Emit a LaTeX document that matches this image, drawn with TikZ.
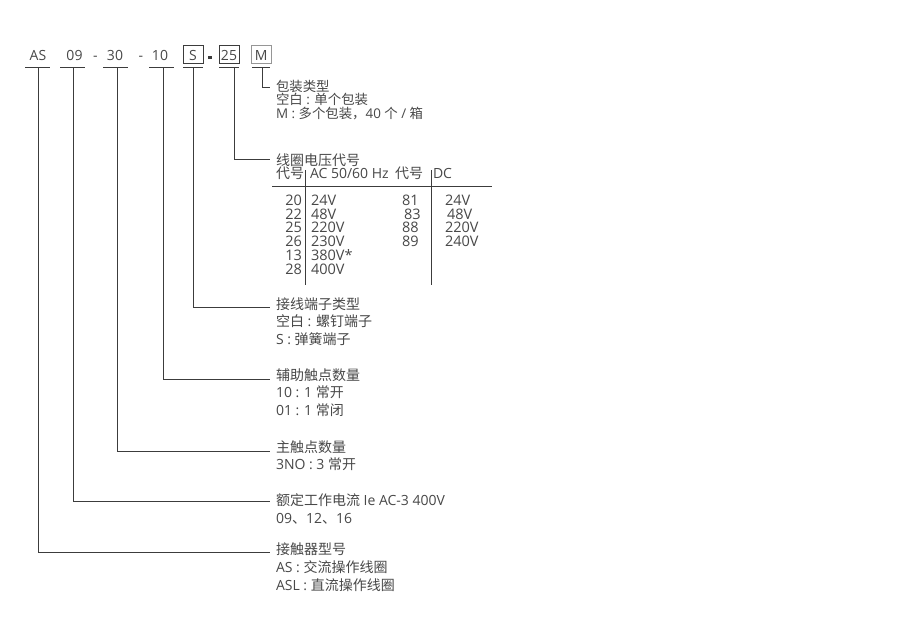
\documentclass[tikz,border=0pt]{standalone}
\usepackage{fontspec}
\setmainfont{Open Sans}
\newfontfamily\cjkfont{Noto Sans CJK SC}
\newcommand\zh[1]{{\cjkfont #1}}
\definecolor{textgray}{RGB}{72,72,72}
\definecolor{linegray}{RGB}{60,60,60}
\definecolor{lightbox}{RGB}{150,150,150}
\tikzset{
  txt/.style={anchor=base west, inner sep=0pt, outer sep=0pt, text=textgray, font=\fontsize{14}{16}\selectfont},
  tighttxt/.style={txt, font=\fontsize{13.4}{14}\selectfont},
  tab/.style={inner sep=0pt, outer sep=0pt, text=textgray, font=\fontsize{14.5}{16}\selectfont},
  codetxt/.style={anchor=base, inner sep=0pt, outer sep=0pt, text=textgray, font=\fontsize{14}{16}\selectfont},
  codebox/.style={draw=linegray, line width=1pt, minimum width=20pt, minimum height=18.5pt, inner sep=0pt},
  ln/.style={draw=linegray, line width=1pt},
}
\begin{document}
\begin{tikzpicture}[x=1pt,y=-1pt]
\fill[white] (0,0) rectangle (900,632);
\useasboundingbox (0,0) rectangle (900,632);

% ---- code row ----
\node[codetxt] (tAS) at (38,60.7) {AS};
\node[codetxt] (t09) at (74.5,60.7) {09};
\node[codetxt] (d1) at (95.5,60.7) {-};
\node[codetxt] (t30) at (115,60.7) {30};
\node[codetxt] (d2) at (141,60.7) {-};
\node[codetxt] (t10) at (160,60.7) {10};
\node[codebox] (bS) at (193,54.5) {};
\node[codetxt] (tS) at (193,60.7) {S};
\node[fill=linegray, inner sep=0pt, minimum width=4pt, minimum height=3pt] (dash) at (210,57) {};
\node[codebox] (b25) at (229,54.5) {};
\node[codetxt] (t25) at (229,60.7) {25};
\node[codebox, draw=lightbox, minimum width=19.5pt] (bM) at (261.25,54.5) {};
\node[codetxt] (tM) at (261.25,60.7) {M};

% underlines
\draw[ln] (25,67) -- (50,67);
\draw[ln] (60,67) -- (85,67);
\draw[ln] (103,67) -- (128,67);
\draw[ln] (149,67) -- (174,67);
\draw[ln] (183,67) -- (203,67);
\draw[ln] (219,67) -- (239,67);
\draw[ln] (252,67) -- (270,67);

% connector start/end points
\coordinate (uAS) at (38,67);   \coordinate (eAS) at (270,552);
\coordinate (u09) at (73,67);   \coordinate (e09) at (270,501);
\coordinate (u30) at (117,67);  \coordinate (e30) at (270,451);
\coordinate (u10) at (163,67);  \coordinate (e10) at (270,379);
\coordinate (uS) at (193,67);   \coordinate (eS) at (270,307);
\coordinate (u25) at (234,67);  \coordinate (e25) at (270,159);
\coordinate (uM) at (262,67);   \coordinate (eM) at (270,87);

\draw[ln] (uAS) |- (eAS);
\draw[ln] (u09) |- (e09);
\draw[ln] (u30) |- (e30);
\draw[ln] (u10) |- (e10);
\draw[ln] (uS) |- (eS);
\draw[ln] (u25) |- (e25);
\draw[ln] (uM) |- (eM);

% ---- M : packaging ----
\node[tighttxt] (m1) at (276,91) {\zh{包装类型}};
\node[tighttxt] (m2) at (276,104.6) {\zh{空白} : \zh{单个包装}};
\node[tighttxt] (m3) at (276,118.4) {M : \zh{多个包装，}40 \zh{个} / \zh{箱}};

% ---- 25 : coil voltage ----
\node[txt] (v1) at (276,165) {\zh{线圈电压代号}};
\node[txt] (vh1) at (276,178) {\zh{代号}};
\node[txt] (vh2) at (310,178) {AC 50/60 Hz};
\node[txt] (vh3) at (395,178) {\zh{代号}};
\node[txt] (vh4) at (433,178) {DC};
\draw[ln] (272,186) -- (492,186);
\draw[ln] (305,170) -- (305,285);
\draw[ln] (431,170) -- (431,285);
\foreach \i/\a/\b in {0/20/24V,1/22/48V,2/25/220V,3/26/230V,4/13/380V*,5/28/400V}{
  \node[tab, anchor=base east] (ac\i) at (302,205.5+13.7*\i) {\a};
  \node[tab, anchor=base west] (av\i) at (311,205.5+13.7*\i) {\b};
}
\foreach \i/\a/\b/\xa/\xb in {0/81/24V/402/445,1/83/48V/404/447,2/88/220V/402/445,3/89/240V/402/445}{
  \node[tab, anchor=base west] (dc\i) at (\xa,205.5+13.7*\i) {\a};
  \node[tab, anchor=base west] (dv\i) at (\xb,205.5+13.7*\i) {\b};
}

% ---- S : terminal ----
\node[txt] (s1) at (276,309) {\zh{接线端子类型}};
\node[txt] (s2) at (276,326.5) {\zh{空白} : \zh{螺钉端子}};
\node[txt] (s3) at (276,344) {S : \zh{弹簧端子}};

% ---- 10 : auxiliary contacts ----
\node[txt] (a1) at (276,380.5) {\zh{辅助触点数量}};
\node[txt] (a2) at (276,397.5) {10 : 1 \zh{常开}};
\node[txt] (a3) at (276,415) {01 : 1 \zh{常闭}};

% ---- 30 : main contacts ----
\node[txt] (c1) at (276,452) {\zh{主触点数量}};
\node[txt] (c2) at (276,469.5) {3NO : 3 \zh{常开}};

% ---- 09 : rated current ----
\node[txt] (r1) at (276,505.5) {\zh{额定工作电流} Ie AC-3 400V};
\node[txt] (r2) at (276,523.5) {09\zh{、}12\zh{、}16};

% ---- AS : contactor type ----
\node[txt] (k1) at (276,554.5) {\zh{接触器型号}};
\node[txt] (k2) at (276,572) {AS : \zh{交流操作线圈}};
\node[txt] (k3) at (276,590) {ASL : \zh{直流操作线圈}};
\end{tikzpicture}
\end{document}
